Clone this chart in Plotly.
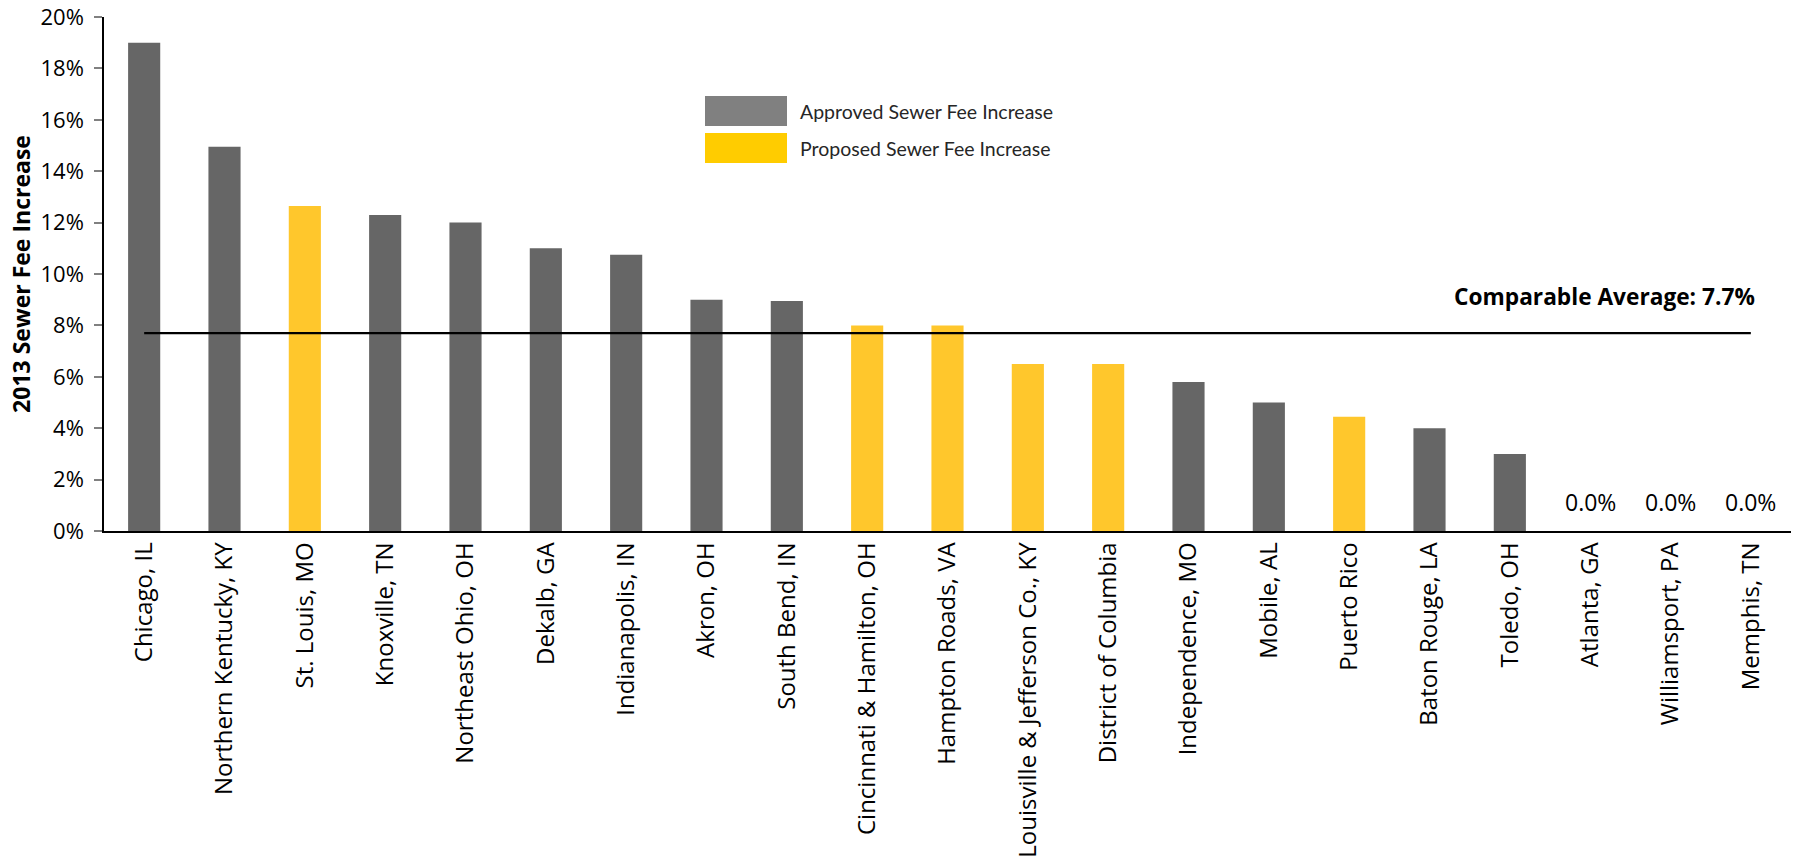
import plotly.graph_objects as go

# { data
cities = ['Chicago, IL', 'Northern Kentucky, KY', 'St. Louis, MO', 'Knoxville, TN',
          'Northeast Ohio, OH', 'Dekalb, GA', 'Indianapolis, IN', 'Akron, OH',
          'South Bend, IN', 'Cincinnati & Hamilton, OH', 'Hampton Roads, VA',
          'Louisville & Jefferson Co., KY', 'District of Columbia', 'Independence, MO',
          'Mobile, AL', 'Puerto Rico', 'Baton Rouge, LA', 'Toledo, OH',
          'Atlanta, GA', 'Williamsport, PA', 'Memphis, TN']
increase = [19.0, 14.95, 12.65, 12.3, 12.0, 11.0, 10.75, 9.0, 8.95, 8.0, 8.0,
            6.5, 6.5, 5.8, 5.0, 4.45, 4.0, 3.0, 0.0, 0.0, 0.0]
status = ['Approved', 'Approved', 'Proposed', 'Approved', 'Approved', 'Approved',
          'Approved', 'Approved', 'Approved', 'Proposed', 'Proposed', 'Proposed',
          'Proposed', 'Approved', 'Approved', 'Proposed', 'Approved', 'Approved',
          'Approved', 'Approved', 'Approved']
average = 7.7
y_ticks = [0, 2, 4, 6, 8, 10, 12, 14, 16, 18, 20]
y_labels = [f'{v}%' for v in y_ticks]
# }

bar_colors = {'Approved': '#666666', 'Proposed': '#FFC72C'}
legend_colors = {'Approved': '#808080', 'Proposed': '#FFCC00'}

# page body margin is removed in the html (post_script), so figure == window
W, H = 1794, 862
L, R, T, B = 104, 3, 17, 331
pw, ph = W - L - R, H - T - B


def px_x(p):  # window pixel -> paper
    return (p - L) / pw


def px_y(p):
    return (H - B - p) / ph


fig = go.Figure()

fig.add_trace(go.Bar(x=cities, y=increase,
                     marker=dict(color=[bar_colors[s] for s in status], line_width=0),
                     showlegend=False))

fig.add_trace(go.Scatter(x=cities, y=[average] * len(cities),
                         mode='lines', line=dict(color='black', width=2.2),
                         showlegend=False, hoverinfo='skip'))

# { zero value labels
for c, v in zip(cities, increase):
    if v == 0:
        fig.add_annotation(x=c, y=v, text=f'{v:.1f}%', showarrow=False,
                           yanchor='middle', yshift=29,
                           font=dict(family='Open Sans', size=23, color='black'))
# }

fig.add_annotation(x=cities[-1], y=average, text=f'<b>Comparable Average: {average}%</b>',
                   showarrow=False, xanchor='right', xshift=6, yanchor='middle', yshift=37,
                   font=dict(family='Open Sans', size=22.7, color='black'))

# { custom legend
for i, s in enumerate(['Approved', 'Proposed']):
    top = 96 + i * 37
    fig.add_shape(type='rect', xref='paper', yref='paper',
                  x0=px_x(705), x1=px_x(787), y0=px_y(top + 30), y1=px_y(top),
                  fillcolor=legend_colors[s], line_width=0)
    fig.add_annotation(xref='paper', yref='paper', x=px_x(798), y=px_y(top + 15),
                       xanchor='left', yanchor='middle', showarrow=False,
                       text=f'{s} Sewer Fee Increase',
                       font=dict(family='Lato', size=19.5, color='#262626'))
# }

fig.update_layout(
    width=W, height=H,
    margin=dict(l=L, r=R, t=T, b=B, pad=0),
    plot_bgcolor='white', paper_bgcolor='white',
    bargap=0.6,
    font=dict(family='Open Sans', color='black'),
    xaxis=dict(categoryorder='array', categoryarray=cities,
               tickangle=-90, tickfont=dict(family='Open Sans', size=24, color='black'),
               showline=True, linecolor='black', linewidth=1.5,
               ticks='', showgrid=False, ticklabelstandoff=0, automargin=False),
    yaxis=dict(range=[0, 20], tickmode='array', tickvals=y_ticks, ticktext=y_labels,
               tickfont=dict(family='Open Sans', size=22, color='black'),
               ticklabeloverflow='allow', automargin=False,
               showline=True, linecolor='black', linewidth=1.5,
               ticks='outside', ticklen=8, tickcolor='#808080', tickwidth=2,
               ticklabelstandoff=6,
               showgrid=False, zeroline=False,
               title=dict(text='<b>2013 Sewer Fee Increase</b>', standoff=3,
                          font=dict(family='Open Sans', size=23, color='black'))),
)

fig.write_html('out.html', config={'displayModeBar': False},
               post_script="document.body.style.margin = '0';")
